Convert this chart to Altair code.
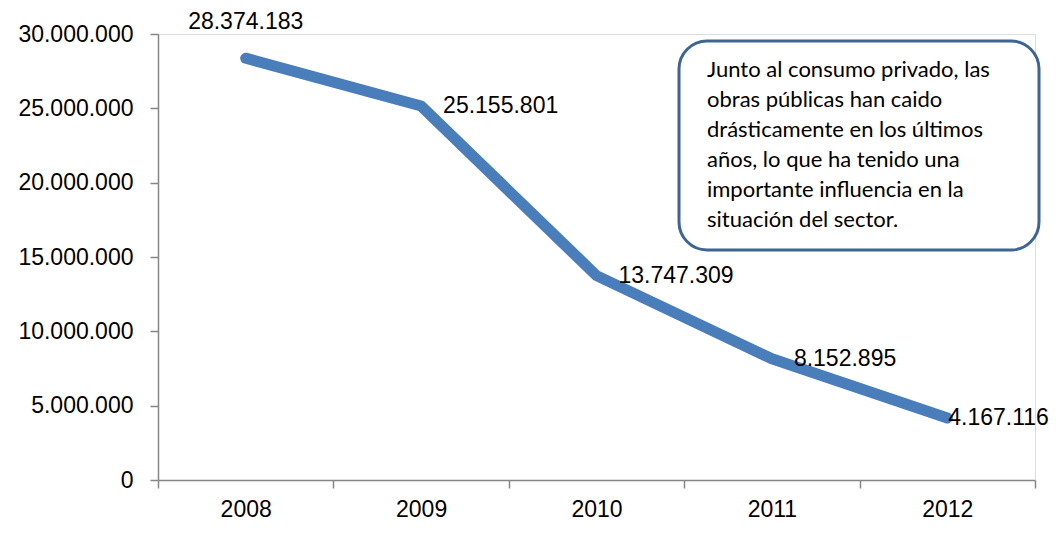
import altair as alt
import pandas as pd

years = ["2008", "2009", "2010", "2011", "2012"]
values = [28374183, 25155801, 13747309, 8152895, 4167116]
labels = ["28.374.183", "25.155.801", "13.747.309", "8.152.895", "4.167.116"]
y_ticks = [0, 5000000, 10000000, 15000000, 20000000, 25000000, 30000000]
note_lines = [
    "Junto al consumo privado, las",
    "obras públicas han caido",
    "drásticamente en los últimos",
    "años, lo que ha tenido una",
    "importante influencia en la",
    "situación del sector.",
]

df = pd.DataFrame({"year": years, "value": values, "label": labels})

W, H = 877, 446
FONT = "Liberation Sans"
FS = 23

x = alt.X("year:N", sort=years,
          scale=alt.Scale(type="band", paddingInner=0, paddingOuter=0),
          axis=alt.Axis(title=None, labelAngle=0, tickBand="extent", tickSize=8,
                        domainColor="#868686", tickColor="#868686", tickWidth=1.5,
                        domainWidth=1.5, labelFont=FONT, labelFontSize=FS,
                        labelColor="black", labelPadding=10, grid=False))
y = alt.Y("value:Q", scale=alt.Scale(domain=[0, 30000000], nice=False),
          axis=alt.Axis(title=None, values=y_ticks, tickSize=8,
                        domainColor="#868686", tickColor="#868686", tickWidth=1.5,
                        domainWidth=1.5, labelFont=FONT, labelFontSize=FS,
                        labelColor="black", labelPadding=17, grid=False,
                        labelExpr="replace(format(datum.value, ','), /,/g, '.')"))

base = alt.Chart(df)

line = base.mark_line(color="#4a7ebb", strokeWidth=11, strokeCap="round",
                      strokeJoin="round").encode(x=x, y=y)

txt_top = base.transform_filter(alt.datum.year == "2008").mark_text(
    font=FONT, fontSize=FS, color="black", dy=-36, baseline="middle"
).encode(x=x, y=y, text="label:N")

txt_mid = base.transform_filter(
    (alt.datum.year == "2009") | (alt.datum.year == "2010") | (alt.datum.year == "2011")
).mark_text(font=FONT, fontSize=FS, color="black", dx=22, align="left",
            baseline="middle").encode(x=x, y=y, text="label:N")

txt_last = base.transform_filter(alt.datum.year == "2012").mark_text(
    font=FONT, fontSize=FS, color="black", dx=1, align="left", baseline="middle"
).encode(x=x, y=y, text="label:N")

box = alt.Chart(pd.DataFrame({"a": [0]})).mark_rect(
    fill="white", stroke="#3e6494", strokeWidth=3, cornerRadius=28
).encode(x=alt.value(521), x2=alt.value(881), y=alt.value(7), y2=alt.value(216))

note = alt.Chart(pd.DataFrame({"a": [0]})).mark_text(
    font="Lato", fontSize=22, color="black", align="left", baseline="top",
    lineHeight=30
).encode(x=alt.value(549), y=alt.value(26), text=alt.value(note_lines))

chart = alt.layer(line, txt_top, txt_mid, txt_last, box, note).properties(
    width=W, height=H,
    autosize=alt.AutoSizeParams(type="none"),
    padding={"left": 150, "top": 26, "right": 17, "bottom": 40},
).configure_view(stroke=None).configure(background="white")

chart.save("out.html", embed_options={"renderer": "svg", "actions": False})
